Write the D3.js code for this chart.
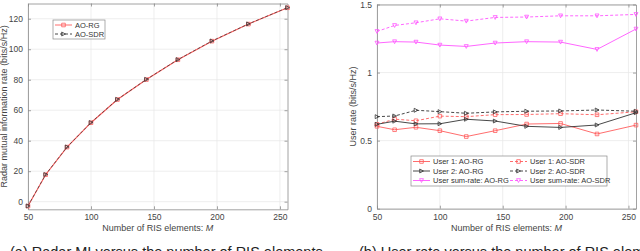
<!DOCTYPE html>
<html>
<head>
<meta charset="utf-8">
<script src="https://cdn.jsdelivr.net/npm/d3@7/dist/d3.min.js"></script>
<style>
  body { margin: 0; background: #fff; }
  text { font-family: "Liberation Sans", Arial, sans-serif; }
</style>
</head>
<body>
<script>
// Number of RIS elements
var M = [50, 64, 81, 100, 121, 144, 169, 196, 225, 256];

// (a) radar mutual information rate
var radarRG  = [-2.9, 17.7, 35.8, 51.8, 67.0, 80.1, 93.1, 105.3, 116.5, 127.2];
var radarSDR = [-2.8, 17.8, 35.9, 51.9, 67.1, 80.2, 93.2, 105.4, 116.6, 127.3];

// (b) user rates
var user1RG   = [0.605, 0.580, 0.598, 0.573, 0.530, 0.573, 0.622, 0.626, 0.549, 0.614];
var user1SDR  = [0.620, 0.658, 0.646, 0.680, 0.676, 0.691, 0.692, 0.698, 0.690, 0.712];
var user2RG   = [0.620, 0.643, 0.623, 0.624, 0.657, 0.644, 0.605, 0.597, 0.615, 0.705];
var user2SDR  = [0.676, 0.681, 0.723, 0.713, 0.701, 0.711, 0.716, 0.718, 0.725, 0.716];
var sumRG     = [1.217, 1.227, 1.224, 1.202, 1.192, 1.217, 1.227, 1.224, 1.170, 1.320];
var sumSDR    = [1.302, 1.346, 1.366, 1.395, 1.378, 1.405, 1.408, 1.417, 1.417, 1.427];

var xTicks = [50, 100, 150, 200, 250];
var yTicksA = [0, 20, 40, 60, 80, 100, 120];
var yTicksB = [0, 0.5, 1, 1.5];

var w = 640, h = 251;
var red = "#ff5c5c", black = "#333333", magenta = "#ff55ff";

var svg = d3.select("body").append("svg")
  .attr("width", w)
  .attr("height", h);

function markerPath(type, s) {
  if (type == "square") return "M" + (-s) + "," + (-s) + "h" + (2 * s) + "v" + (2 * s) + "h" + (-2 * s) + "Z";
  if (type == "right") return "M" + (-s) + "," + (-s * 1.1) + "L" + (s * 1.1) + ",0L" + (-s) + "," + (s * 1.1) + "Z";
  return "M" + (-s * 1.1) + "," + (-s) + "L" + (s * 1.1) + "," + (-s) + "L0," + (s * 1.1) + "Z";
}

function drawPanel(left, top, right, bottom, yDomain, yTicks, yFmt, ylabel, series) {
  var x = d3.scaleLinear().domain([50, 256]).range([left, right]);
  var y = d3.scaleLinear().domain(yDomain).range([bottom, top]);
  var g = svg.append("g");

  // grid
  g.selectAll(".gx").data(xTicks).enter().append("line")
    .attr("x1", function(d) { return x(d); }).attr("x2", function(d) { return x(d); })
    .attr("y1", top).attr("y2", bottom)
    .attr("stroke", "#e6e6e6").attr("stroke-width", 0.7);
  g.selectAll(".gy").data(yTicks).enter().append("line")
    .attr("x1", left).attr("x2", right)
    .attr("y1", function(d) { return y(d); }).attr("y2", function(d) { return y(d); })
    .attr("stroke", "#e6e6e6").attr("stroke-width", 0.7);

  // axes (MATLAB style, ticks inside, box)
  var ax = g.append("g").attr("transform", "translate(0," + bottom + ")")
    .call(d3.axisBottom(x).tickValues(xTicks).tickSizeInner(-3).tickSizeOuter(0).tickPadding(5));
  var ax2 = g.append("g").attr("transform", "translate(0," + top + ")")
    .call(d3.axisTop(x).tickValues(xTicks).tickSizeInner(-3).tickSizeOuter(0).tickFormat(""));
  var ay = g.append("g").attr("transform", "translate(" + left + ",0)")
    .call(d3.axisLeft(y).tickValues(yTicks).tickFormat(yFmt).tickSizeInner(-3).tickSizeOuter(0).tickPadding(5));
  var ay2 = g.append("g").attr("transform", "translate(" + right + ",0)")
    .call(d3.axisRight(y).tickValues(yTicks).tickSizeInner(-3).tickSizeOuter(0).tickFormat(""));
  [ax, ax2, ay, ay2].forEach(function(a) {
    a.select(".domain").attr("stroke", "#8a8a8a").attr("stroke-width", 0.8);
    a.selectAll(".tick line").attr("stroke", "#8a8a8a").attr("stroke-width", 0.8);
    a.selectAll("text").attr("font-size", "8.5px").attr("fill", "#444")
      .attr("font-family", "Liberation Sans, Arial, sans-serif");
  });

  // x label
  var xl = g.append("text")
    .attr("x", (left + right) / 2).attr("y", bottom + 22)
    .attr("text-anchor", "middle").attr("font-size", "9px").attr("fill", "#444")
    .text("Number of RIS elements: ");
  xl.append("tspan").attr("font-style", "italic").text("M");

  g.append("text")
    .attr("transform", "translate(" + ylabel.x + "," + ((top + bottom) / 2) + ") rotate(-90)")
    .attr("text-anchor", "middle").attr("font-size", "9px").attr("fill", "#444")
    .text(ylabel.text);

  // lines and markers
  series.forEach(function(s) {
    var line = d3.line()
      .x(function(d, i) { return x(M[i]); })
      .y(function(d) { return y(d); });
    g.append("path").datum(s.values)
      .attr("d", line)
      .attr("fill", "none")
      .attr("stroke", s.color)
      .attr("stroke-width", s.width || 0.9)
      .attr("stroke-dasharray", s.dash ? "3,2" : null);
    g.selectAll(null).data(s.values).enter().append("path")
      .attr("transform", function(d, i) { return "translate(" + x(M[i]) + "," + y(d) + ")"; })
      .attr("d", markerPath(s.marker, 1.8))
      .attr("fill", "none")
      .attr("stroke", s.color)
      .attr("stroke-width", 0.8);
  });
  return g;
}

// panel (a)
var ga = drawPanel(28, 3.5, 287.5, 209.3, [-5, 130], yTicksA, d3.format("d"),
  { x: 7, text: "Radar mutual information rate (bits/s/Hz)" },
  [
    { values: radarRG, color: red, marker: "square", width: 1.1 },
    { values: radarSDR, color: black, marker: "right", dash: true, width: 0.7 }
  ]);

// panel (b)
var gb = drawPanel(377, 4.5, 636, 208.7, [0, 1.5], yTicksB, function(d) { return d3.format("")(d); },
  { x: 356, text: "User rate (bits/s/Hz)" },
  [
    { values: user1RG, color: red, marker: "square" },
    { values: user1SDR, color: red, marker: "square", dash: true },
    { values: user2RG, color: black, marker: "right" },
    { values: user2SDR, color: black, marker: "right", dash: true },
    { values: sumRG, color: magenta, marker: "down" },
    { values: sumSDR, color: magenta, marker: "down", dash: true }
  ]);

// legends
function legend(g, x0, y0, bw, bh, items) {
  g.append("rect").attr("x", x0).attr("y", y0).attr("width", bw).attr("height", bh)
    .attr("fill", "#fff").attr("stroke", "#8a8a8a").attr("stroke-width", 0.7);
  items.forEach(function(it) {
    g.append("line").attr("x1", it.x).attr("x2", it.x + 17).attr("y1", it.y).attr("y2", it.y)
      .attr("stroke", it.color).attr("stroke-width", 0.9)
      .attr("stroke-dasharray", it.dash ? "3,2" : null);
    g.append("path").attr("transform", "translate(" + (it.x + 8.5) + "," + it.y + ")")
      .attr("d", markerPath(it.marker, 1.8)).attr("fill", "none")
      .attr("stroke", it.color).attr("stroke-width", 0.8);
    g.append("text").attr("x", it.x + 20).attr("y", it.y + 2.8)
      .attr("font-size", "7.5px").attr("fill", "#333").text(it.label);
  });
}

legend(ga, 53, 20, 52, 19, [
  { x: 55, y: 25, color: red, marker: "square", label: "AO-RG" },
  { x: 55, y: 34, color: black, marker: "right", dash: true, label: "AO-SDR" }
]);

legend(gb, 411, 156, 196, 30, [
  { x: 413, y: 161.5, color: red, marker: "square", label: "User 1: AO-RG" },
  { x: 413, y: 171, color: black, marker: "right", label: "User 2: AO-RG" },
  { x: 413, y: 180.5, color: magenta, marker: "down", label: "User sum-rate: AO-RG" },
  { x: 510, y: 161.5, color: red, marker: "square", dash: true, label: "User 1: AO-SDR" },
  { x: 510, y: 171, color: black, marker: "right", dash: true, label: "User 2: AO-SDR" },
  { x: 510, y: 180.5, color: magenta, marker: "down", dash: true, label: "User sum-rate: AO-SDR" }
]);

// captions (cut off at the bottom of the picture, as in the reference)
svg.append("text").attr("x", 10).attr("y", 257)
  .attr("font-family", "Liberation Serif, Times New Roman, serif").attr("font-size", "14.5px").attr("fill", "#222")
  .text("(a) Radar MI versus the number of RIS elements");
svg.append("text").attr("x", 359).attr("y", 257)
  .attr("font-family", "Liberation Serif, Times New Roman, serif").attr("font-size", "14.5px").attr("fill", "#222")
  .text("(b) User rate versus the number of RIS elements");
</script>
</body>
</html>
